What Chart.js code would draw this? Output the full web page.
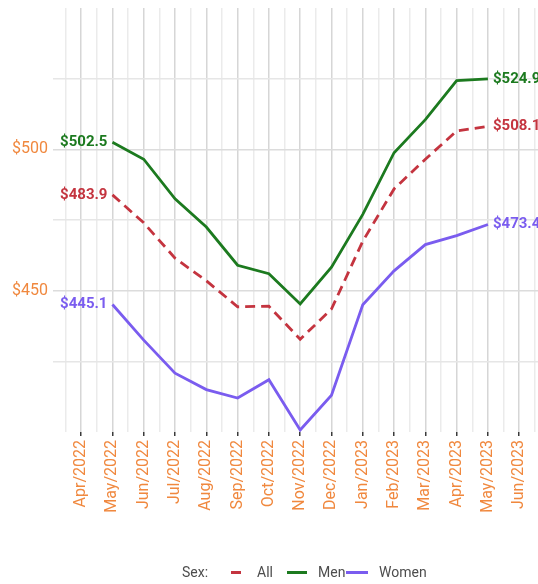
<!DOCTYPE html>
<html>
<head>
<meta charset="utf-8">
<script src="https://cdn.jsdelivr.net/npm/chart.js@4"></script>
<style>
  body { margin: 0; background: #fff; font-family: Roboto, sans-serif; }
  #wrap { position: relative; width: 538px; height: 584px; overflow: hidden; }
  .lg { position: absolute; top: 563px; font-size: 14px; line-height: 18px; color: #4d4d4d; white-space: nowrap; }
  .key { position: absolute; top: 571px; height: 3px; }
</style>
</head>
<body>
<div id="wrap">
  <canvas id="chart"></canvas>
  <span class="lg" style="left:182px">Sex:</span>
  <div class="key" style="left:231px;width:10px;background:#c4343f"></div>
  <span class="lg" style="left:257px">All</span>
  <div class="key" style="left:287px;width:20px;background:#1c7a1f"></div>
  <span class="lg" style="left:318px">Men</span>
  <div class="key" style="left:346px;width:22px;background:#7a5cef"></div>
  <span class="lg" style="left:379px">Women</span>
</div>
<script>
// Month axis labels (one per month on the x axis)
const months = ["Apr/2022", "May/2022", "Jun/2022", "Jul/2022", "Aug/2022", "Sep/2022", "Oct/2022",
  "Nov/2022", "Dec/2022", "Jan/2023", "Feb/2023", "Mar/2023", "Apr/2023", "May/2023", "Jun/2023"];

// Months that have data (May/2022 .. May/2023)
const dataMonths = ["May/2022", "Jun/2022", "Jul/2022", "Aug/2022", "Sep/2022", "Oct/2022", "Nov/2022",
  "Dec/2022", "Jan/2023", "Feb/2023", "Mar/2023", "Apr/2023", "May/2023"];

// Weekly earnings by sex
const allValues = [483.9, 474.0, 461.5, 453.5, 444.3, 444.5, 432.8, 443.5, 467.5, 486.0, 496.5, 506.5, 508.1];
const menValues = [502.5, 496.5, 482.5, 472.5, 459.0, 456.0, 445.3, 458.3, 477.0, 498.8, 510.5, 524.3, 524.9];
const womenValues = [445.1, 432.5, 420.8, 415.0, 412.0, 418.5, 400.7, 413.0, 445.0, 457.0, 466.3, 469.5, 473.4];

const yTickLabels = [450, 500];

const ORANGE = "#f0883e";

// Turn a series into {x, y} points on the month index scale
const toPoints = (values) =>
  values.map((v, i) => ({ x: months.indexOf(dataMonths[i]), y: v }));

// Draws the first and last value of every line beside it
const endLabels = {
  id: "endLabels",
  afterDatasetsDraw(chart) {
    const ctx = chart.ctx;
    ctx.save();
    ctx.font = "bold 15px Roboto";
    ctx.textBaseline = "middle";
    chart.data.datasets.forEach((ds, i) => {
      const meta = chart.getDatasetMeta(i);
      const first = meta.data[0];
      const last = meta.data[meta.data.length - 1];
      ctx.fillStyle = ds.borderColor;
      ctx.textAlign = "right";
      ctx.fillText("$" + ds.data[0].y.toFixed(1), first.x - 5, first.y);
      ctx.textAlign = "left";
      ctx.fillText("$" + ds.data[ds.data.length - 1].y.toFixed(1), last.x + 5, last.y);
    });
    ctx.restore();
  },
};

const isMonth = (c) => c.tick && Math.abs(c.tick.value % 1) < 1e-6;

new Chart(document.getElementById("chart"), {
  type: "line",
  data: {
    datasets: [
      {
        label: "All",
        data: toPoints(allValues),
        borderColor: "#c4343f",
        borderDash: [10, 6],
        borderWidth: 2.8,
      },
      {
        label: "Men",
        data: toPoints(menValues),
        borderColor: "#1c7a1f",
        borderWidth: 2.8,
      },
      {
        label: "Women",
        data: toPoints(womenValues),
        borderColor: "#7a5cef",
        borderWidth: 2.8,
      },
    ],
  },
  options: {
    responsive: true,
    maintainAspectRatio: false,
    animation: false,
    layout: { padding: { top: 8, right: 0, bottom: 0, left: 0 } },
    elements: { point: { radius: 0 }, line: { tension: 0, borderCapStyle: "butt" } },
    plugins: { legend: { display: false }, tooltip: { enabled: false } },
    scales: {
      x: {
        type: "linear",
        min: -0.9,
        max: 14.6,
        border: { display: false },
        grid: {
          color: (c) => (isMonth(c) ? "#d6d6d6" : "#ebebeb"),
          lineWidth: 1.5,
          tickLength: 4,
          tickWidth: 1.5,
          tickColor: (c) => (isMonth(c) ? "#3a3a3a" : "rgba(0,0,0,0)"),
        },
        ticks: {
          autoSkip: false,
          minRotation: 90,
          maxRotation: 90,
          padding: 4,
          color: ORANGE,
          font: { family: "Roboto", size: 16 },
          callback: (v) => (Math.abs(v % 1) < 1e-6 ? months[Math.round(v)] || "" : ""),
        },
        // a gridline every half month, a tick and label on every month
        afterBuildTicks: (s) => {
          const t = [];
          for (let v = -0.5; v <= 14.5; v += 0.5) t.push({ value: v });
          s.ticks = t;
        },
        afterFit: (s) => {
          s.height = 152;
          s.paddingLeft = 0;
          s.paddingRight = 0;
        },
      },
      y: {
        min: 400,
        max: 550,
        border: { display: false },
        grid: {
          drawTicks: false,
          lineWidth: 1.5,
          color: (c) => {
            const v = c.tick && c.tick.value;
            if (v === 400 || v === 550) return "rgba(0,0,0,0)";
            return yTickLabels.includes(v) ? "#dcdcdc" : "#e6e6e6";
          },
        },
        ticks: {
          stepSize: 25,
          padding: 5,
          color: ORANGE,
          font: { family: "Roboto", size: 16 },
          callback: (v) => (yTickLabels.includes(v) ? "$" + v : ""),
        },
        afterFit: (s) => {
          s.width = 53;
          s.paddingTop = 0;
          s.paddingBottom = 0;
        },
      },
    },
  },
  plugins: [endLabels],
});
</script>
</body>
</html>
